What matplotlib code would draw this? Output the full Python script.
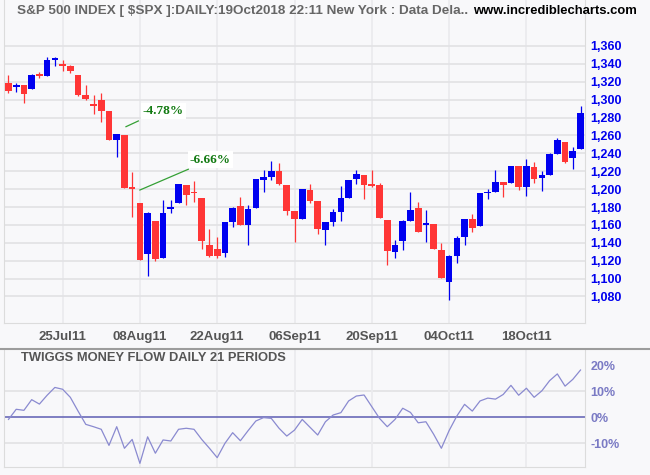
import numpy as np
import pandas as pd
import matplotlib
matplotlib.use('Agg')
import matplotlib.pyplot as plt
from matplotlib.lines import Line2D

# trading days shown (Sep 5 2011 was Labor Day)
days = [d for d in pd.bdate_range('2011-07-14', '2011-10-27') if d != pd.Timestamp('2011-09-05')]

opens = [1319.0, 1313.8, 1316.4, 1312.3, 1329.1, 1326.8, 1344.3, 1339.9, 1337.6, 1327.6,
         1305.2, 1295.2, 1299.6, 1287.3, 1255.3, 1260.1, 1201.3, 1184.5, 1127.9, 1164.4,
         1123.4, 1178.2, 1184.9, 1204.2, 1196.8, 1190.1, 1137.6, 1133.4, 1129.0, 1163.6,
         1181.1, 1160.3, 1179.3, 1210.6, 1213.9, 1220.3, 1204.6, 1175.6, 1167.0, 1199.0,
         1186.7, 1154.7, 1163.6, 1174.8, 1190.5, 1211.7, 1215.8, 1205.7, 1204.6, 1165.5,
         1130.1, 1142.4, 1164.8, 1178.9, 1160.0, 1161.0, 1131.9, 1096.6, 1125.6, 1146.1,
         1166.6, 1159.2, 1195.3, 1196.8, 1207.6, 1207.2, 1225.9, 1202.0, 1224.4, 1212.8,
         1216.2, 1239.3, 1252.7, 1234.8, 1244.9]
highs = [1327.9, 1319.0, 1316.4, 1328.7, 1330.9, 1347.7, 1347.3, 1344.3, 1338.8, 1327.6,
         1316.4, 1305.2, 1307.8, 1287.3, 1261.3, 1260.1, 1218.8, 1184.5, 1174.8, 1164.4,
         1187.9, 1187.9, 1205.7, 1204.2, 1209.1, 1190.1, 1155.4, 1146.1, 1163.3, 1180.4,
         1191.2, 1181.9, 1211.3, 1221.4, 1231.4, 1229.6, 1204.6, 1175.6, 1200.2, 1205.7,
         1186.7, 1163.3, 1177.8, 1203.5, 1210.2, 1221.4, 1215.8, 1221.4, 1207.2, 1165.5,
         1143.1, 1165.5, 1196.8, 1185.6, 1176.7, 1161.0, 1139.4, 1126.0, 1147.6, 1166.6,
         1172.2, 1195.7, 1200.2, 1221.4, 1207.6, 1225.9, 1225.9, 1233.7, 1230.3, 1220.7,
         1240.4, 1256.8, 1252.7, 1246.7, 1292.9]
lows = [1307.8, 1309.0, 1296.7, 1312.3, 1324.6, 1326.8, 1338.0, 1332.4, 1330.2, 1304.1,
        1299.6, 1284.0, 1275.4, 1255.3, 1236.3, 1200.9, 1169.2, 1121.2, 1103.3, 1120.0,
        1123.4, 1173.0, 1184.9, 1181.9, 1186.0, 1132.7, 1124.2, 1122.7, 1124.5, 1158.0,
        1160.3, 1137.9, 1179.3, 1197.2, 1210.2, 1204.6, 1171.5, 1141.3, 1167.0, 1184.9,
        1150.2, 1137.9, 1159.2, 1164.8, 1190.5, 1206.1, 1189.3, 1202.4, 1167.7, 1115.2,
        1123.4, 1132.0, 1164.8, 1152.5, 1141.3, 1133.4, 1101.0, 1076.1, 1117.8, 1137.0,
        1151.7, 1159.2, 1188.6, 1196.8, 1191.6, 1207.2, 1199.0, 1192.7, 1207.2, 1198.3,
        1216.2, 1239.3, 1228.8, 1222.5, 1244.9]
closes = [1310.1, 1316.4, 1306.7, 1327.6, 1326.8, 1344.3, 1345.4, 1338.0, 1332.4, 1305.2,
          1300.7, 1293.3, 1287.7, 1255.3, 1261.3, 1201.6, 1200.5, 1121.2, 1173.3, 1121.9,
          1173.3, 1180.0, 1205.7, 1193.8, 1195.3, 1142.4, 1125.6, 1125.6, 1163.3, 1178.9,
          1160.3, 1177.8, 1211.3, 1213.6, 1220.3, 1205.7, 1175.9, 1167.0, 1200.2, 1187.1,
          1155.8, 1163.3, 1174.8, 1190.1, 1210.2, 1216.9, 1205.0, 1203.9, 1167.7, 1131.2,
          1137.6, 1164.4, 1176.7, 1152.5, 1161.0, 1133.4, 1101.0, 1125.3, 1145.8, 1166.6,
          1156.9, 1195.7, 1197.2, 1208.0, 1205.0, 1225.9, 1202.8, 1225.9, 1211.3, 1215.4,
          1239.3, 1254.6, 1230.7, 1242.6, 1285.1]

# Twiggs money flow, %
tmf = [-0.8, 3.1, 2.7, 6.8, 5.1, 8.5, 11.5, 10.8, 7.7, 2.4,
       -2.7, -3.6, -4.6, -10.8, -3.6, -11.9, -8.5, -17.7, -7.5, -13.8,
       -8.7, -9.1, -4.6, -4.2, -4.6, -8.5, -11.9, -15.5, -10.0, -5.9,
       -9.0, -5.1, -1.4, -0.1, -0.4, -4.2, -7.2, -4.9, -0.8, -3.8,
       -6.8, -1.7, 0.9, 1.8, 6.3, 8.2, 8.6, 4.1, -0.4, -3.6,
       -0.8, 3.5, 1.9, -2.1, -1.7, -6.5, -11.9, -5.1, 0.5, 5.0,
       2.4, 6.3, 7.4, 7.0, 8.8, 12.3, 8.5, 11.2, 7.7, 10.2,
       14.1, 16.7, 12.0, 14.6, 18.2]

tick_dates = ['2011-07-25', '2011-08-08', '2011-08-22', '2011-09-06',
              '2011-09-20', '2011-10-04', '2011-10-18']
price_ticks = list(range(1080, 1361, 20))
tmf_ticks = [20, 10, 0, -10]

W, H = 650, 475
bg = '#f8f8fa'
plt.rcParams['font.family'] = 'Liberation Sans'

fig = plt.figure(figsize=(W / 100, H / 100), dpi=100, facecolor=bg)
ax = fig.add_axes([4 / W, 1 - 322.7 / H, 581 / W, 322.7 / H], facecolor=bg)
ax2 = fig.add_axes([4 / W, 1 - 467 / H, 581 / W, 117 / H], facecolor=bg)

x = np.arange(len(days))
o = np.array(opens); c = np.array(closes)
cols = np.where(c >= o, '#0000f0', '#ff3636')
ax.vlines(x, lows, highs, colors=cols, lw=0.9, zorder=3)
ax.bar(x, np.maximum(np.abs(c - o), 1.8), bottom=np.minimum(o, c), width=0.86,
       color=cols, linewidth=0, zorder=4)

tpos = [days.index(pd.Timestamp(d)) for d in tick_dates]
tlab = [pd.Timestamp(d).strftime('%d%b%y') for d in tick_dates]

ax.set_xlim(-0.58, 74.58)
ax.set_ylim(1050.7, 1411.4)
ax.set_xticks(tpos)
ax.set_xticklabels(tlab)
ax.set_yticks(price_ticks)
ax.set_yticklabels([f'{v:,}' for v in price_ticks])
ax.yaxis.tick_right()
ax.grid(axis='y', color='#e3e3e6', lw=1.3, zorder=0)
ax.grid(axis='x', color='#ebebee', lw=1.3, zorder=0)
ax.tick_params(axis='y', length=0, pad=4, labelsize=9, labelcolor='#0000ee')
ax.tick_params(axis='x', length=0, pad=6, labelsize=9.5, labelcolor='#555555')
for t in ax.get_xticklabels() + ax.get_yticklabels():
    t.set_fontweight('bold')
for s in ['left', 'right', 'bottom']:
    ax.spines[s].set_color('#dcdcdc')
ax.spines['top'].set_visible(False)

# percentage drop notes
green = '#127a12'
ax.plot([15.2, 16.8], [1269.8, 1276.2], color='#35a035', lw=0.9, zorder=5)
ax.text(17.36, 1287.3, '-4.78%', ha='left', va='center', color=green, fontsize=9.5,
        family='Liberation Serif', fontweight='bold', zorder=6,
        bbox=dict(facecolor='white', edgecolor='none', pad=1.5))
ax.plot([17.0, 23.26], [1199.0, 1222.2], color='#35a035', lw=0.9, zorder=5)
ax.text(23.48, 1233.1, '-6.66%', ha='left', va='center', color=green, fontsize=9.5,
        family='Liberation Serif', fontweight='bold', zorder=6,
        bbox=dict(facecolor='white', edgecolor='none', pad=1.5))

# money flow panel
ax2.plot(x, tmf, color='#8a8ad0', lw=0.9, zorder=3)
ax2.axhline(0, color='#6a6ab8', lw=1.2, zorder=2)
for v in [10, -10]:
    ax2.axhline(v, color='#e3e3e6', lw=1.3, zorder=0)
ax2.set_xlim(-0.58, 74.58)
ax2.set_ylim(-19.1, 25.9)
ax2.set_xticks(tpos)
ax2.set_xticklabels([])
ax2.grid(axis='x', color='#ebebee', lw=1.3, zorder=0)
ax2.set_yticks(tmf_ticks)
ax2.set_yticklabels([f'{v}%' for v in tmf_ticks])
ax2.yaxis.tick_right()
ax2.tick_params(axis='y', length=0, pad=4, labelsize=9, labelcolor='#7a7ac4')
ax2.tick_params(axis='x', length=0)
for t in ax2.get_yticklabels():
    t.set_fontweight('bold')
for s in ['left', 'right', 'bottom']:
    ax2.spines[s].set_color('#dcdcdc')
ax2.spines['top'].set_visible(False)

fig.add_artist(Line2D([0, 1], [1 - 349 / H] * 2, color='#9c9c9c', lw=1.5,
                      transform=fig.transFigure))

fig.text(17 / W, 1 - 11 / H, 'S&P 500 INDEX [ $SPX ]:DAILY:19Oct2018 22:11 New York : Data Dela..',
         ha='left', va='center', fontsize=9.7, fontweight='bold', color='#666666')
fig.text(637 / W, 1 - 11 / H, 'www.incrediblecharts.com', ha='right', va='center',
         fontsize=9.4, fontweight='bold', color='black')
fig.text(20.7 / W, 1 - 358 / H, 'TWIGGS MONEY FLOW DAILY 21 PERIODS', ha='left', va='center',
         fontsize=9.3, fontweight='bold', color='#555555')

fig.savefig('out.png', dpi=100, facecolor=bg)
